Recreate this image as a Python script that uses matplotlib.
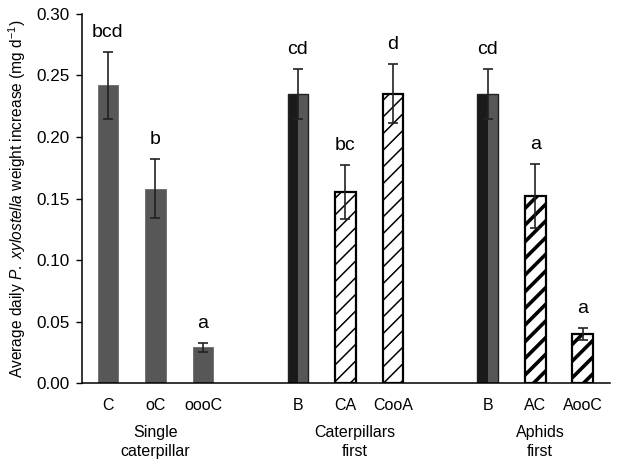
import matplotlib
matplotlib.use("Agg")
import matplotlib.pyplot as plt
import matplotlib.transforms as mtransforms

plt.rcParams['font.family'] = ['Liberation Sans', 'DejaVu Sans']
plt.rcParams['mathtext.fontset'] = 'custom'
plt.rcParams['mathtext.rm'] = 'Liberation Sans'
plt.rcParams['mathtext.it'] = 'Liberation Sans:italic'

# data
labels = ["C", "oC", "oooC", "B", "CA", "CooA", "B", "AC", "AooC"]
positions = [0, 1, 2, 4, 5, 6, 8, 9, 10]
means = [0.242, 0.158, 0.029, 0.235, 0.155, 0.235, 0.235, 0.152, 0.040]
errors = [0.027, 0.024, 0.0035, 0.020, 0.022, 0.024, 0.020, 0.026, 0.005]
letters = ["bcd", "b", "a", "cd", "bc", "d", "cd", "a", "a"]
styles = ["gray", "gray", "gray", "split", "hatch", "hatch", "split", "bold", "bold"]
group_names = ["Single\ncaterpillar", "Caterpillars\nfirst", "Aphids\nfirst"]
group_centers = [1.0, 5.2, 9.1]

GRAY = "#575757"
BLACK = "#1a1a1a"
W = 0.44

fig = plt.figure(figsize=(6.25, 4.65), dpi=100)
ax = fig.add_axes([0.131, 0.176, 0.845, 0.794])

for x, m, st in zip(positions, means, styles):
    if st == "gray":
        ax.bar(x, m, W, color=GRAY, edgecolor="#6a6a6a", linewidth=0.6, zorder=2)
    elif st == "split":
        ax.bar(x - W / 4, m, W / 2, color=BLACK, linewidth=0, zorder=2)
        ax.bar(x + W / 4, m, W / 2, color=GRAY, linewidth=0, zorder=2)
        ax.bar(x, m, W, color="none", edgecolor="#222222", linewidth=1.0, zorder=2)
    else:
        hlw = 1.1 if st == "hatch" else 2.6
        with plt.rc_context({"hatch.linewidth": hlw}):
            bars = ax.bar(x, m, W, color="white", edgecolor="black", hatch="//",
                          linewidth=1.6, zorder=2)
        for b in bars:
            if hasattr(b, "set_hatch_linewidth"):
                b.set_hatch_linewidth(hlw)

ax.errorbar(positions, means, yerr=errors, fmt="none", ecolor="#222222",
            elinewidth=1.2, capsize=3.5, capthick=1.2, zorder=3)

for x, m, e, t in zip(positions, means, errors, letters):
    ax.annotate(t, (x, m + e), xytext=(0, 11), textcoords="offset points",
                ha="center", va="baseline", fontsize=14)

ax.set_xlim(-0.55, 10.57)
ax.set_ylim(0, 0.30)
ax.set_yticks([0, 0.05, 0.10, 0.15, 0.20, 0.25, 0.30])
ax.set_yticklabels(["%.2f" % v for v in ax.get_yticks()], fontsize=12.3)
ax.set_xticks(positions)
ax.set_xticklabels(labels, fontsize=11.5)
ax.tick_params(axis="x", length=0, pad=11)
ax.tick_params(axis="y", length=4.5, width=1, pad=4)

for s in ["top", "right"]:
    ax.spines[s].set_visible(False)
for s in ["left", "bottom"]:
    ax.spines[s].set_linewidth(1.1)

trans = mtransforms.blended_transform_factory(ax.transData, ax.transAxes)
for gx, name in zip(group_centers, group_names):
    ax.text(gx, -0.112, name, transform=trans, ha="center", va="top",
            fontsize=11.5, linespacing=1.35)

ax.set_ylabel(r"Average daily $\it{P.\ xylostella}$ weight increase (mg d$^{-1}$)",
              fontsize=11.2, labelpad=6)

fig.savefig("out.png", dpi=100)
